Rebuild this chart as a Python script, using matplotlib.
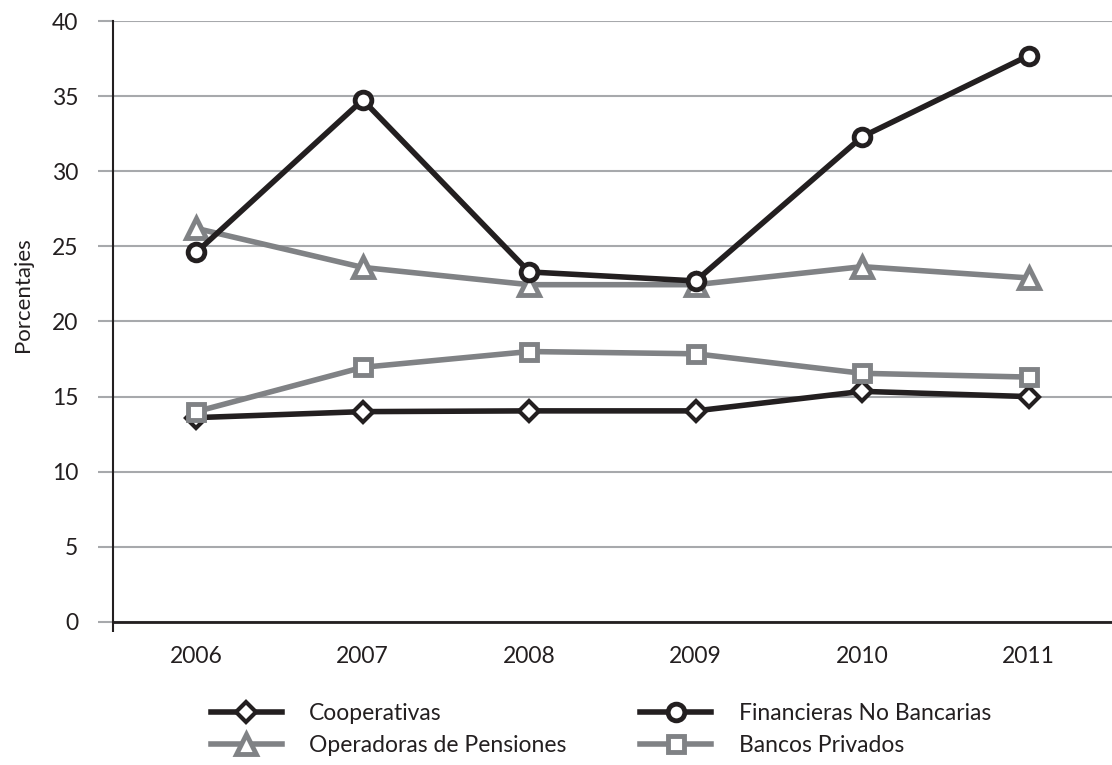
import numpy as np
import matplotlib.pyplot as plt

plt.rcParams['figure.dpi'] = 100
plt.rcParams['font.family'] = ['Lato', 'DejaVu Sans']

years = ['2006', '2007', '2008', '2009', '2010', '2011']
cooperativas = [13.6, 14.0, 14.05, 14.05, 15.35, 15.0]
financieras = [24.6, 34.75, 23.3, 22.7, 32.3, 37.7]
operadoras = [26.2, 23.6, 22.45, 22.45, 23.65, 22.9]
bancos = [14.0, 16.95, 18.0, 17.85, 16.55, 16.3]

black = '#231f20'
gray = '#808285'

fig = plt.figure(figsize=(11.12, 7.65))
ax = fig.add_axes([0.1016, 0.187, 0.8984, 0.7855])
x = np.arange(len(years))

lw = 4
h_coop, = ax.plot(x, cooperativas, color=black, lw=lw, marker='D', ms=10,
                  mfc='white', mec=black, mew=3, zorder=3, label='Cooperativas')
h_banc, = ax.plot(x, bancos, color=gray, lw=lw, marker='s', ms=11,
                  mfc='white', mec=gray, mew=3.5, zorder=4, label='Bancos Privados')
h_oper, = ax.plot(x, operadoras, color=gray, lw=lw, marker='^', ms=14,
                  mfc='white', mec=gray, mew=3.5, zorder=5, label='Operadoras de Pensiones')
h_fin, = ax.plot(x, financieras, color=black, lw=lw, marker='o', ms=12,
                 mfc='white', mec=black, mew=3.5, zorder=6, label='Financieras No Bancarias')

ax.set_xlim(-0.5, 5.5)
ax.set_ylim(0, 40)
ax.set_yticks(np.arange(0, 41, 5))
ax.set_xticks(x)
ax.set_xticklabels(years)
ax.yaxis.grid(True, color='#a7a9ac', lw=1.5)
ax.set_axisbelow(True)

for s in ['top', 'right']:
    ax.spines[s].set_visible(False)
ax.spines['left'].set_color(black)
ax.spines['left'].set_linewidth(1.5)
ax.spines['bottom'].set_color(black)
ax.spines['bottom'].set_linewidth(2)
ax.spines['bottom'].set_zorder(2)

ax.tick_params(axis='y', length=11, width=1.5, color='#a7a9ac', labelsize=16.5,
               labelcolor=black, pad=14)
ax.tick_params(axis='x', length=0, labelsize=16.5, labelcolor=black, pad=17)
ax.set_xticks([-0.5], minor=True)
ax.tick_params(axis='x', which='minor', length=7, width=1.5, color=black)

ax.set_ylabel('Porcentajes', fontsize=16, color=black)
ax.yaxis.set_label_coords(-0.080, 0.544)

fig.legend(handles=[h_coop, h_oper, h_fin, h_banc], ncol=2, loc='upper left',
           bbox_to_anchor=(0.171, 0.108), frameon=False, fontsize=16.5,
           handlelength=3.1, handletextpad=1.2, columnspacing=3.2,
           labelspacing=0.5, labelcolor=black)

fig.savefig('out.png', dpi=100)
